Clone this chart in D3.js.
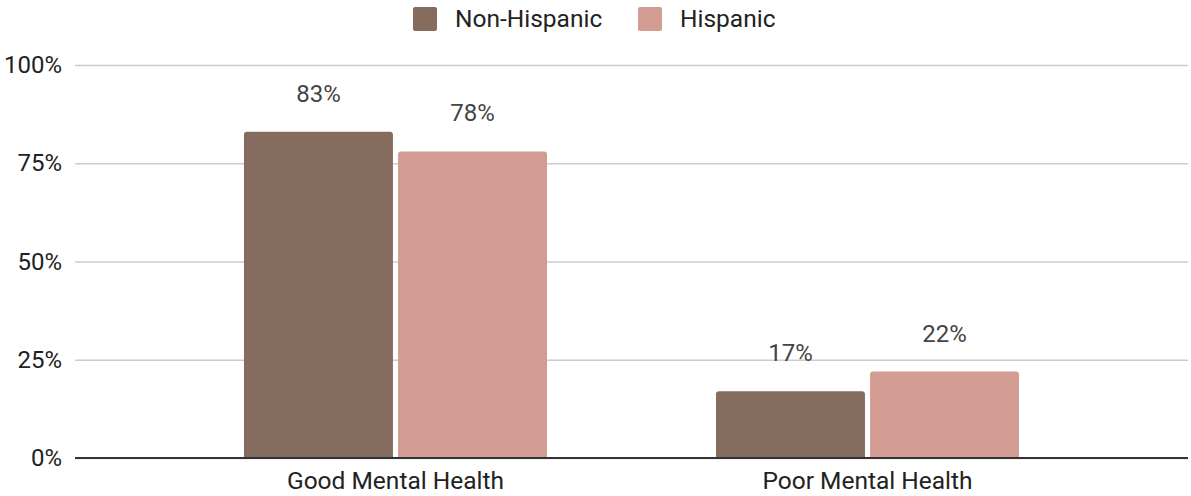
<!DOCTYPE html>
<html><head><meta charset="utf-8">
<script src="https://cdn.jsdelivr.net/npm/d3@7"></script>
<style>body{margin:0;background:#fff}svg{display:block;font-family:Roboto,sans-serif}</style>
</head><body><svg id="c" width="1191" height="496"></svg>
<script>
const categories = ["Good Mental Health", "Poor Mental Health"];
const seriesNames = ["Non-Hispanic", "Hispanic"];
const nonHispanic = [0.83, 0.17];
const hispanic = [0.78, 0.22];
const yTicks = [0, 0.25, 0.5, 0.75, 1];
const colors = ["#866c5e", "#d39c92"];

const svg = d3.select("#c");
const mLeft = 75, mRight = 1188, mTop = 65, mBottom = 458;
const x0 = d3.scaleBand().domain(categories).range([mLeft, mRight]).paddingInner(0.358).paddingOuter(0.358);
const x1 = d3.scaleBand().domain(seriesNames).range([0, x0.bandwidth()]).paddingInner(0.033);
const y = d3.scaleLinear().domain([0, 1]).range([mBottom, mTop]);
const color = d3.scaleOrdinal().domain(seriesNames).range(colors);

// grid
const grid = svg.append("g").attr("transform", `translate(${mLeft},0)`)
  .call(d3.axisLeft(y).tickValues(yTicks).tickSize(-(mRight - mLeft)).tickFormat(d3.format(".0%")).tickPadding(13));
grid.select(".domain").remove();
grid.selectAll(".tick line").attr("stroke", "#cccccc").attr("stroke-width", 1.5);
grid.selectAll(".tick text").attr("font-size", 24).attr("fill", "#222").attr("font-family", "Roboto");

const data = categories.map((c, i) => ({cat: c, vals: [
  {name: seriesNames[0], v: nonHispanic[i]}, {name: seriesNames[1], v: hispanic[i]}]}));

function topRounded(x, y0, w, h, r) {
  return `M${x},${y0 + h}V${y0 + r}Q${x},${y0} ${x + r},${y0}H${x + w - r}Q${x + w},${y0} ${x + w},${y0 + r}V${y0 + h}Z`;
}

const groups = svg.append("g").selectAll("g").data(data).join("g")
  .attr("transform", d => `translate(${x0(d.cat)},0)`);
groups.selectAll("path").data(d => d.vals).join("path")
  .attr("d", d => topRounded(x1(d.name), y(d.v), x1.bandwidth(), y(0) - y(d.v), 3))
  .attr("fill", d => color(d.name));
groups.selectAll("text").data(d => d.vals).join("text")
  .attr("x", d => x1(d.name) + x1.bandwidth() / 2)
  .attr("y", d => y(d.v) - 30)
  .attr("text-anchor", "middle").attr("font-size", 24).attr("fill", "#444")
  .text(d => d3.format(".0%")(d.v));

// x axis
const xa = svg.append("g").attr("transform", `translate(0,${mBottom})`)
  .call(d3.axisBottom(x0).tickSize(0).tickPadding(14));
xa.select(".domain").attr("stroke", "#333").attr("stroke-width", 2).attr("d", `M${mLeft},0H${mRight}`);
xa.selectAll(".tick text").attr("font-size", 24.5).attr("fill", "#222").attr("font-family", "Roboto");

// legend
const leg = svg.append("g");
const legX = [413, 638];
seriesNames.forEach((s, i) => {
  leg.append("rect").attr("x", legX[i]).attr("y", 7).attr("width", 24).attr("height", 24).attr("rx", 2).attr("fill", colors[i]);
  leg.append("text").attr("x", legX[i] + 42).attr("y", 27).attr("font-size", 24.5).attr("fill", "#222").text(s);
});
</script></body></html>
